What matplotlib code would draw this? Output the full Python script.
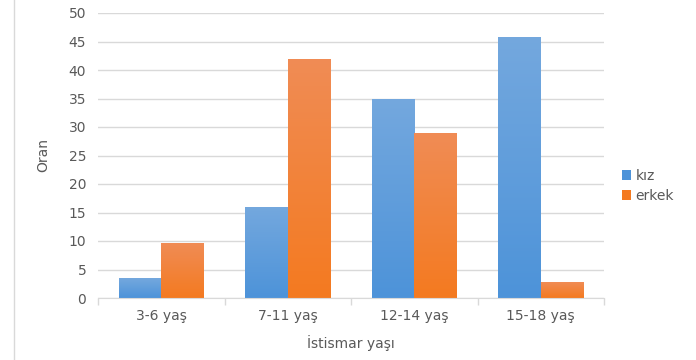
import numpy as np
import matplotlib
matplotlib.use("Agg")
import matplotlib.pyplot as plt
from matplotlib.colors import LinearSegmentedColormap

categories = ["3-6 yaş", "7-11 yaş", "12-14 yaş", "15-18 yaş"]
kiz = [3.5, 16.0, 35.0, 45.8]
erkek = [9.6, 41.9, 28.9, 2.8]
series_names = ["kız", "erkek"]
y_ticks = [0, 5, 10, 15, 20, 25, 30, 35, 40, 45, 50]

text_color = "#595959"
grid_color = "#d9d9d9"
blue_top, blue_bot = "#74a8de", "#4d93d9"
orange_top, orange_bot = "#f08c55", "#f47a20"

plt.rcParams["font.family"] = ["DejaVu Sans"]
fig = plt.figure(figsize=(6.96, 3.6), dpi=100)
ax = fig.add_axes([98 / 696, 1 - 298 / 360, (604 - 98) / 696, (298 - 13) / 360])

x = np.arange(len(categories))
w = 0.335


def gradient_bars(xs, vals, top, bot, label):
    bars = ax.bar(xs, vals, width=w, color=bot, label=label, zorder=2,
                  edgecolor="none")
    cmap = LinearSegmentedColormap.from_list("g", [bot, top])
    grad = np.linspace(0, 1, 256).reshape(-1, 1)
    for b in bars:
        x0, y0 = b.get_x(), b.get_y()
        bw, bh = b.get_width(), b.get_height()
        im = ax.imshow(grad, cmap=cmap, origin="lower", aspect="auto",
                       extent=[x0, x0 + bw, y0, y0 + bh], zorder=2.1,
                       interpolation="bilinear")
        im.set_clip_path(b)
    return bars


gradient_bars(x - w / 2, kiz, blue_top, blue_bot, series_names[0])
gradient_bars(x + w / 2, erkek, orange_top, orange_bot, series_names[1])

ax.set_xlim(-0.5, len(categories) - 0.5)
ax.set_ylim(0, 50)
ax.set_yticks(y_ticks)
ax.set_yticklabels([str(t) for t in y_ticks], color=text_color, fontsize=10)
ax.yaxis.grid(True, color=grid_color, linewidth=1)
ax.set_axisbelow(True)
ax.tick_params(axis="y", length=0, pad=8.5)

ax.set_xticks(x)
ax.set_xticklabels(categories, color=text_color, fontsize=10)
ax.tick_params(axis="x", length=0, pad=8)
ax.set_xticks(np.arange(len(categories) + 1) - 0.5, minor=True)
ax.tick_params(axis="x", which="minor", length=5, color=grid_color, width=1)

for s in ["top", "right", "left"]:
    ax.spines[s].set_visible(False)
ax.spines["bottom"].set_color(grid_color)

ax.set_ylabel("Oran", color=text_color, fontsize=10, labelpad=13)
ax.set_xlabel("İstismar yaşı", color=text_color, fontsize=10, labelpad=8.5)

leg = ax.legend(loc="center left", bbox_to_anchor=(1.01, 0.393), frameon=False,
                fontsize=10, handlelength=0.7, handleheight=0.7,
                handletextpad=0.3, labelspacing=0.45, labelcolor=text_color)

# chart frame line on the left side
fig.add_artist(plt.Line2D([14 / 696, 14 / 696], [0, 1], color=grid_color,
                          linewidth=1))

fig.savefig("out.png", dpi=100)
